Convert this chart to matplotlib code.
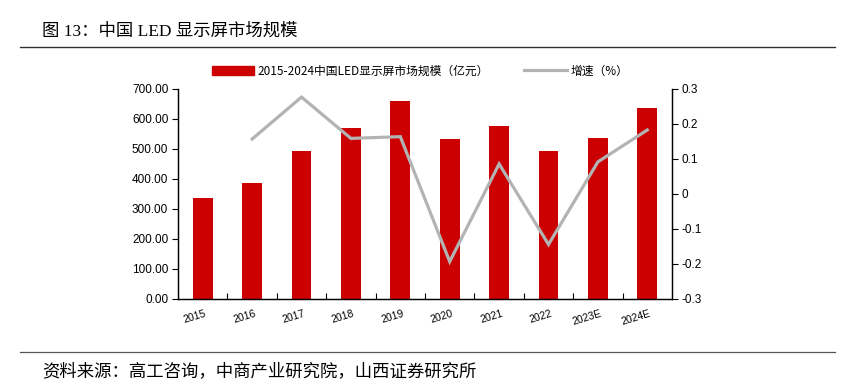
import matplotlib
matplotlib.use("Agg")
import matplotlib.pyplot as plt
import matplotlib.transforms as mtransforms
from matplotlib.lines import Line2D
from matplotlib.patches import Patch

plt.rcParams["font.family"] = ["Liberation Sans", "Noto Sans CJK SC", "DejaVu Sans"]

# data
years = ["2015", "2016", "2017", "2018", "2019", "2020", "2021", "2022", "2023E", "2024E"]
market_size = [335, 386, 492, 568, 660, 532, 577, 493, 537, 635]
growth = [None, 0.156, 0.276, 0.158, 0.163, -0.194, 0.085, -0.145, 0.091, 0.182]

left_ticks = [0, 100, 200, 300, 400, 500, 600, 700]
right_ticks = [-0.3, -0.2, -0.1, 0, 0.1, 0.2, 0.3]
right_labels = ["-0.3", "-0.2", "-0.1", "0", "0.1", "0.2", "0.3"]

red = "#cc0000"
grey = "#b3b3b3"
cjk = ["Noto Sans CJK SC", "DejaVu Sans"]
serif_cjk = ["Liberation Serif", "Noto Sans CJK SC", "DejaVu Sans"]

fig = plt.figure(figsize=(8.42, 3.79), dpi=100)
ax = fig.add_axes([178 / 842, 1 - 298.7 / 379, (672 - 178) / 842, 210 / 379])
ax2 = ax.twinx()

x = list(range(len(years)))
ax.bar(x, market_size, width=0.4, color=red, zorder=2)
gx = [i for i, g in zip(x, growth) if g is not None]
gy = [g for g in growth if g is not None]
ax2.plot(gx, gy, color=grey, linewidth=2.3, solid_joinstyle="miter", zorder=3)

ax.set_xlim(-0.5, len(years) - 0.5)
ax.set_ylim(0, 700)
ax2.set_ylim(-0.3, 0.3)

ax.set_yticks(left_ticks)
ax.set_yticklabels([f"{v:.2f}" for v in left_ticks], fontsize=8.5)
ax2.set_yticks(right_ticks)
ax2.set_yticklabels(right_labels, fontsize=8.5)

ax.set_xticks(x)
ax.set_xticklabels(years, fontsize=7.5, rotation=17, ha="right", va="top",
                   rotation_mode="anchor")
ax.tick_params(axis="x", length=0, pad=7)
ax.set_xticks([i + 0.5 for i in x[:-1]], minor=True)
ax.tick_params(axis="x", which="minor", direction="in", length=4, width=0.8)
ax.tick_params(axis="y", length=4, width=0.8, direction="out", pad=3)
ax2.tick_params(axis="y", length=4, width=0.8, direction="out", pad=3)

for a in (ax, ax2):
    a.spines["top"].set_visible(False)
    a.spines["left"].set_linewidth(0.9)
    a.spines["right"].set_linewidth(0.9)
    a.spines["bottom"].set_linewidth(0.9)

# right end of each rotated label sits just past the category centre
offset = mtransforms.ScaledTranslation(2 / 100, 0, fig.dpi_scale_trans)
for lab in ax.get_xticklabels():
    lab.set_transform(lab.get_transform() + offset)

handles = [Patch(facecolor=red, edgecolor=red),
           Line2D([0], [0], color=grey, linewidth=2.3)]
labels = ["2015-2024中国LED显示屏市场规模（亿元）", "增速（%）"]
fig.legend(handles, labels, loc="center", bbox_to_anchor=(420 / 842, 1 - 71 / 379),
           ncol=2, frameon=False, prop={"family": cjk, "size": 8.5},
           handlelength=3.6, handleheight=0.7, columnspacing=3.0, handletextpad=0.3)

fig.text(42 / 842, 1 - 31 / 379, "图 13：中国 LED 显示屏市场规模", fontsize=12.5,
         family=serif_cjk, va="center", ha="left")
fig.add_artist(Line2D([20 / 842, 835 / 842], [1 - 47 / 379, 1 - 47 / 379],
                      color="#333333", linewidth=1.0))
fig.add_artist(Line2D([20 / 842, 835 / 842], [1 - 352 / 379, 1 - 352 / 379],
                      color="#555555", linewidth=0.9))
fig.text(42 / 842, 1 - 371 / 379, "资料来源：高工咨询，中商产业研究院，山西证券研究所",
         fontsize=12.5, family=cjk, va="center", ha="left")

fig.savefig("out.png", dpi=100)
